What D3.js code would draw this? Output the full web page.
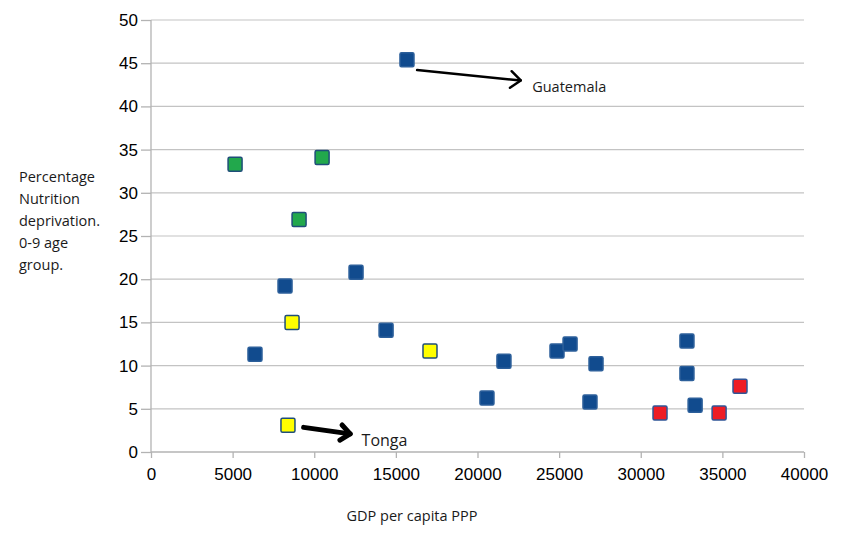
<!DOCTYPE html>
<html>
<head>
<meta charset="utf-8">
<script src="https://cdn.jsdelivr.net/npm/d3@7"></script>
<style>
body { margin: 0; background: #fff; }
</style>
</head>
<body>
<div class="chart"></div>
<script>
// values
var blueGdp = [15680, 12560, 8210, 6370, 14400, 21620, 20580, 24870, 25670, 27260, 26890, 32830, 32830, 33330];
var blueNut = [45.4, 20.8, 19.2, 11.3, 14.1, 10.5, 6.25, 11.7, 12.5, 10.2, 5.8, 12.85, 9.1, 5.4];
var greenGdp = [5150, 10480, 9070];
var greenNut = [33.3, 34.1, 26.9];
var yellowGdp = [8640, 17090, 8390];
var yellowNut = [15.0, 11.7, 3.1];
var redGdp = [31180, 34800, 36080];
var redNut = [4.5, 4.5, 7.6];

var xTicks = [0, 5000, 10000, 15000, 20000, 25000, 30000, 35000, 40000];
var yTicks = [0, 5, 10, 15, 20, 25, 30, 35, 40, 45, 50];

var w = 853;
var h = 535;
var labelFont = "'Open Sans', Lato, sans-serif";

var x = d3.scaleLinear().domain([0, 40000]).range([151, 804]);
var y = d3.scaleLinear().domain([0, 50]).range([452, 20]);

var svg = d3.select(".chart")
    .append("svg")
    .attr("width", w)
    .attr("height", h);

// horizontal grid
svg.append("g")
    .selectAll("line")
    .data(yTicks.slice(1))
    .enter()
    .append("line")
    .attr("x1", x(0))
    .attr("x2", x(40000))
    .attr("y1", function(d) { return y(d); })
    .attr("y2", function(d) { return y(d); })
    .attr("stroke", "#c3c3c3")
    .attr("stroke-width", 1.2);

var xAxis = svg.append("g")
    .attr("transform", "translate(0," + y(0) + ")")
    .call(d3.axisBottom(x).tickValues(xTicks).tickSize(6).tickPadding(10).tickFormat(d3.format("d")));

var yAxis = svg.append("g")
    .attr("transform", "translate(" + x(0) + ",0)")
    .call(d3.axisLeft(y).tickValues(yTicks).tickSize(10).tickPadding(3));

[xAxis, yAxis].forEach(function(ax) {
    ax.select(".domain").attr("stroke", "#b3b3b3").attr("stroke-width", 1.3);
    ax.selectAll(".tick line").attr("stroke", "#b3b3b3").attr("stroke-width", 1.3);
    ax.selectAll("text")
        .attr("fill", "#000")
        .style("font-family", "'Liberation Sans', Arial, sans-serif")
        .style("font-size", "17px");
});
xAxis.select(".domain").attr("d", "M" + x(0) + ",0H" + x(40000));
yAxis.select(".domain").attr("d", "M0," + y(0) + "V" + y(50));

var series = [
    { gdp: blueGdp, nut: blueNut, fill: "#114b8e", stroke: "#2c5f9a" },
    { gdp: greenGdp, nut: greenNut, fill: "#22a84c", stroke: "#1f4e79" },
    { gdp: yellowGdp, nut: yellowNut, fill: "#ffff00", stroke: "#1f4e79" },
    { gdp: redGdp, nut: redNut, fill: "#ee1c25", stroke: "#2f5597" }
];

var size = 14;
series.forEach(function(s) {
    svg.append("g")
        .selectAll("rect")
        .data(s.gdp)
        .enter()
        .append("rect")
        .attr("x", function(d) { return x(d) - size / 2; })
        .attr("y", function(d, i) { return y(s.nut[i]) - size / 2; })
        .attr("width", size)
        .attr("height", size)
        .attr("rx", 1.5)
        .attr("fill", s.fill)
        .attr("stroke", s.stroke)
        .attr("stroke-width", 1.5);
});

// annotation arrows
var drawArrow = function(x1, y1, x2, y2, width, head) {
    var ang = Math.atan2(y2 - y1, x2 - x1);
    svg.append("line")
        .attr("x1", x1).attr("y1", y1)
        .attr("x2", x2).attr("y2", y2)
        .attr("stroke", "#000")
        .attr("stroke-width", width)
        .attr("stroke-linecap", "round");
    var a1 = ang + Math.PI * 0.78;
    var a2 = ang - Math.PI * 0.78;
    svg.append("path")
        .attr("d", "M" + (x2 + head * Math.cos(a1)) + "," + (y2 + head * Math.sin(a1)) +
            "L" + x2 + "," + y2 +
            "L" + (x2 + head * Math.cos(a2)) + "," + (y2 + head * Math.sin(a2)))
        .attr("fill", "none")
        .attr("stroke", "#000")
        .attr("stroke-width", width)
        .attr("stroke-linecap", "round")
        .attr("stroke-linejoin", "round");
};

drawArrow(x(16300), y(44.2), x(22650), y(43.0), 2.5, 13);
drawArrow(x(9350), y(2.85), x(12200), y(2.1), 5, 12);

svg.append("text")
    .attr("x", x(23350))
    .attr("y", y(41.7))
    .style("font-family", labelFont)
    .style("font-size", "14.5px")
    .attr("fill", "#1a1a1a")
    .text("Guatemala");

svg.append("text")
    .attr("x", x(12900))
    .attr("y", y(0.65))
    .style("font-family", labelFont)
    .style("font-size", "16px")
    .attr("fill", "#1a1a1a")
    .text("Tonga");

// axis titles
svg.append("text")
    .attr("x", 412)
    .attr("y", 521)
    .attr("text-anchor", "middle")
    .style("font-family", labelFont)
    .style("font-size", "14.5px")
    .attr("fill", "#1a1a1a")
    .text("GDP per capita PPP");

var yTitle = ["Percentage", "Nutrition", "deprivation.", "0-9 age", "group."];
svg.append("g")
    .selectAll("text")
    .data(yTitle)
    .enter()
    .append("text")
    .attr("x", 19)
    .attr("y", function(d, i) { return 182 + i * 22; })
    .style("font-family", labelFont)
    .style("font-size", "14.5px")
    .attr("fill", "#1a1a1a")
    .text(function(d) { return d; });
</script>
</body>
</html>
